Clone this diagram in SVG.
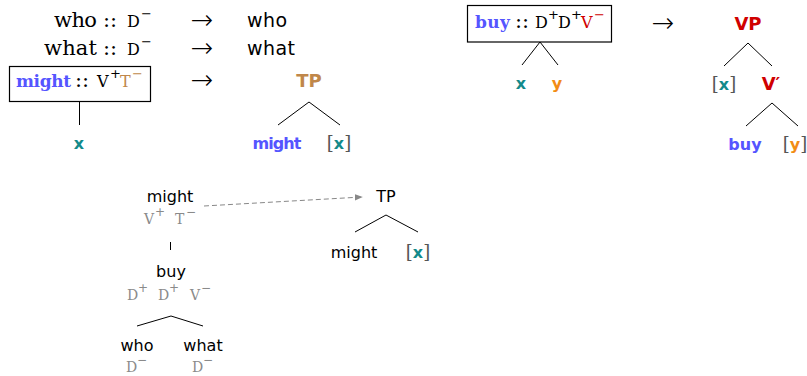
<svg xmlns="http://www.w3.org/2000/svg" width="807" height="376" viewBox="0 0 807 376">
<style>
  .rm { font-family: "DejaVu Serif", "Liberation Serif", serif; font-size: 21px; fill: #000; }
  .rmb { font-family: "DejaVu Serif", "Liberation Serif", serif; font-size: 17px; font-weight: bold; }
  .tt { font-family: "DejaVu Serif", "Liberation Serif", serif; font-size: 16px; fill: #000; }
  .sup { font-family: "DejaVu Sans", sans-serif; font-size: 13px; }
  .sf { font-family: "DejaVu Sans", "Liberation Sans", sans-serif; font-size: 19px; fill: #000; }
  .sfs { font-family: "DejaVu Sans", "Liberation Sans", sans-serif; font-size: 16px; fill: #000; }
  .sfb { font-family: "DejaVu Sans", "Liberation Sans", sans-serif; font-size: 16px; font-weight: bold; }
  .lab { font-family: "DejaVu Sans", "Liberation Sans", sans-serif; font-size: 18px; font-weight: bold; }
  .arr { font-family: "DejaVu Sans", sans-serif; font-size: 27px; font-weight: 200; fill: #000; }
  .br { font-family: "DejaVu Serif", serif; font-size: 18px; fill: #555; }
  .gtt { font-family: "DejaVu Serif", "Liberation Serif", serif; font-size: 14px; fill: #8a8a8a; }
  .gsup { font-family: "DejaVu Sans", sans-serif; font-size: 12px; fill: #8a8a8a; }
  .mid { text-anchor: middle; }
  .blue { fill: #5555ff; }
  .teal { fill: #138a8a; }
  .orange { fill: #f28c14; }
  .tan { fill: #c0874a; }
  .red { fill: #d00000; }
  .edge { stroke: #000; stroke-width: 1; fill: none; }
  .box { stroke: #000; stroke-width: 1.2; fill: #fff; }
  .dash { stroke: #888; stroke-width: 1; stroke-dasharray: 5 3; fill: none; }
</style>
<defs>
  <marker id="head" viewBox="0 0 10 10" refX="9" refY="5" markerWidth="8" markerHeight="8" orient="auto" markerUnits="userSpaceOnUse">
    <path d="M0,1 L10,5 L0,9 Z" fill="#888"/>
  </marker>
</defs>

<!-- lexicon entries on the left -->
<g id="lex-who">
  <text class="rm" x="54" y="27" textLength="43">who</text>
  <text class="rm mid" x="110" y="27">::</text>
  <text class="tt" x="127" y="27">D</text>
  <text class="sup" x="141" y="18">−</text>
  <text class="arr mid" x="202" y="29">→</text>
  <text class="sf" x="247" y="27" textLength="40">who</text>
</g>
<g id="lex-what">
  <text class="rm" x="44" y="55" textLength="53">what</text>
  <text class="rm mid" x="110" y="55">::</text>
  <text class="tt" x="127" y="55">D</text>
  <text class="sup" x="141" y="46">−</text>
  <text class="arr mid" x="202" y="57">→</text>
  <text class="sf" x="247" y="55" textLength="48">what</text>
</g>
<g id="lex-might">
  <rect class="box" x="9.5" y="66.5" width="141" height="35"/>
  <text class="rmb blue" x="16" y="87" textLength="55">might</text>
  <text class="rm mid" x="82" y="87">::</text>
  <text class="tt" x="97" y="87">V</text>
  <text class="sup" x="110" y="78">+</text>
  <text class="tt tan" x="120" y="87">T</text>
  <text class="sup tan" x="132" y="78">−</text>
  <text class="arr mid" x="202" y="89">→</text>
</g>
<g id="might-arg">
  <text class="sfb teal mid" x="79" y="149">x</text>
</g>
<g id="tp-top">
  <text class="lab tan mid" x="309" y="87">TP</text>
</g>
<g id="tp-might">
  <text class="sfb blue mid" x="277" y="149" textLength="49">might</text>
</g>
<g id="tp-x">
  <text class="mid" x="339" y="149"><tspan class="br">[</tspan><tspan class="sfb teal">x</tspan><tspan class="br">]</tspan></text>
</g>

<!-- lexicon entry for buy -->
<g id="lex-buy">
  <rect class="box" x="467.5" y="5.5" width="144" height="36.5"/>
  <text class="rmb blue" x="475" y="28" textLength="35">buy</text>
  <text class="rm mid" x="522" y="28">::</text>
  <text class="tt" x="535" y="28">D</text>
  <text class="sup" x="548" y="19">+</text>
  <text class="tt" x="558" y="28">D</text>
  <text class="sup" x="571" y="19">+</text>
  <text class="tt red" x="581" y="28">V</text>
  <text class="sup red" x="594" y="19">−</text>
  <text class="arr mid" x="663" y="32">→</text>
</g>
<g id="buy-x"><text class="sfb teal mid" x="521" y="89">x</text></g>
<g id="buy-y"><text class="sfb orange mid" x="557" y="89">y</text></g>
<g id="vp"><text class="lab red mid" x="748" y="30">VP</text></g>
<g id="vp-x">
  <text class="mid" x="724" y="90"><tspan class="br">[</tspan><tspan class="sfb teal">x</tspan><tspan class="br">]</tspan></text>
</g>
<g id="vbar"><text class="lab red mid" x="771" y="90">V′</text></g>
<g id="vp-buy"><text class="sfb blue mid" x="745" y="150">buy</text></g>
<g id="vp-y">
  <text class="mid" x="795" y="150"><tspan class="br">[</tspan><tspan class="sfb orange">y</tspan><tspan class="br">]</tspan></text>
</g>

<!-- derivation tree -->
<g id="d-might">
  <text class="sfs mid" x="170" y="202">might</text>
  <text class="gtt" x="144" y="224">V</text>
  <text class="gsup" x="155" y="216">+</text>
  <text class="gtt" x="175" y="224">T</text>
  <text class="gsup" x="186" y="216">−</text>
</g>
<g id="d-buy">
  <text class="sfs mid" x="171" y="277">buy</text>
  <text class="gtt" x="127" y="300">D</text>
  <text class="gsup" x="138" y="292">+</text>
  <text class="gtt" x="158" y="300">D</text>
  <text class="gsup" x="169" y="292">+</text>
  <text class="gtt" x="190" y="300">V</text>
  <text class="gsup" x="201" y="292">−</text>
</g>
<g id="d-who">
  <text class="sfs mid" x="137" y="351">who</text>
  <text class="gtt" x="126" y="372">D</text>
  <text class="gsup" x="137" y="364">−</text>
</g>
<g id="d-what">
  <text class="sfs mid" x="203" y="351">what</text>
  <text class="gtt" x="192" y="372">D</text>
  <text class="gsup" x="203" y="364">−</text>
</g>
<g id="t-tp"><text class="sfs mid" x="386" y="202">TP</text></g>
<g id="t-might"><text class="sfs mid" x="354" y="258">might</text></g>
<g id="t-x">
  <text class="mid" x="418" y="258"><tspan class="br">[</tspan><tspan class="sfb teal">x</tspan><tspan class="br">]</tspan></text>
</g>

<g id="connectors">
  <path class="edge" d="M79.5,101 V125"/>
  <path class="edge" d="M278,125 L309,102 L340,125"/>
  <path class="edge" d="M522,65 L540,42 L558,65"/>
  <path class="edge" d="M724,66 L748,43 L772,66"/>
  <path class="edge" d="M746,126 L772,103 L798,126"/>
  <path class="edge" d="M170.5,242 V250"/>
  <path class="edge" d="M137,326 L171,316 L203,326"/>
  <path class="edge" d="M355,232 L386,215 L418,232"/>
  <path class="dash" d="M204,206 L362,197" marker-end="url(#head)"/>
</g>
</svg>
